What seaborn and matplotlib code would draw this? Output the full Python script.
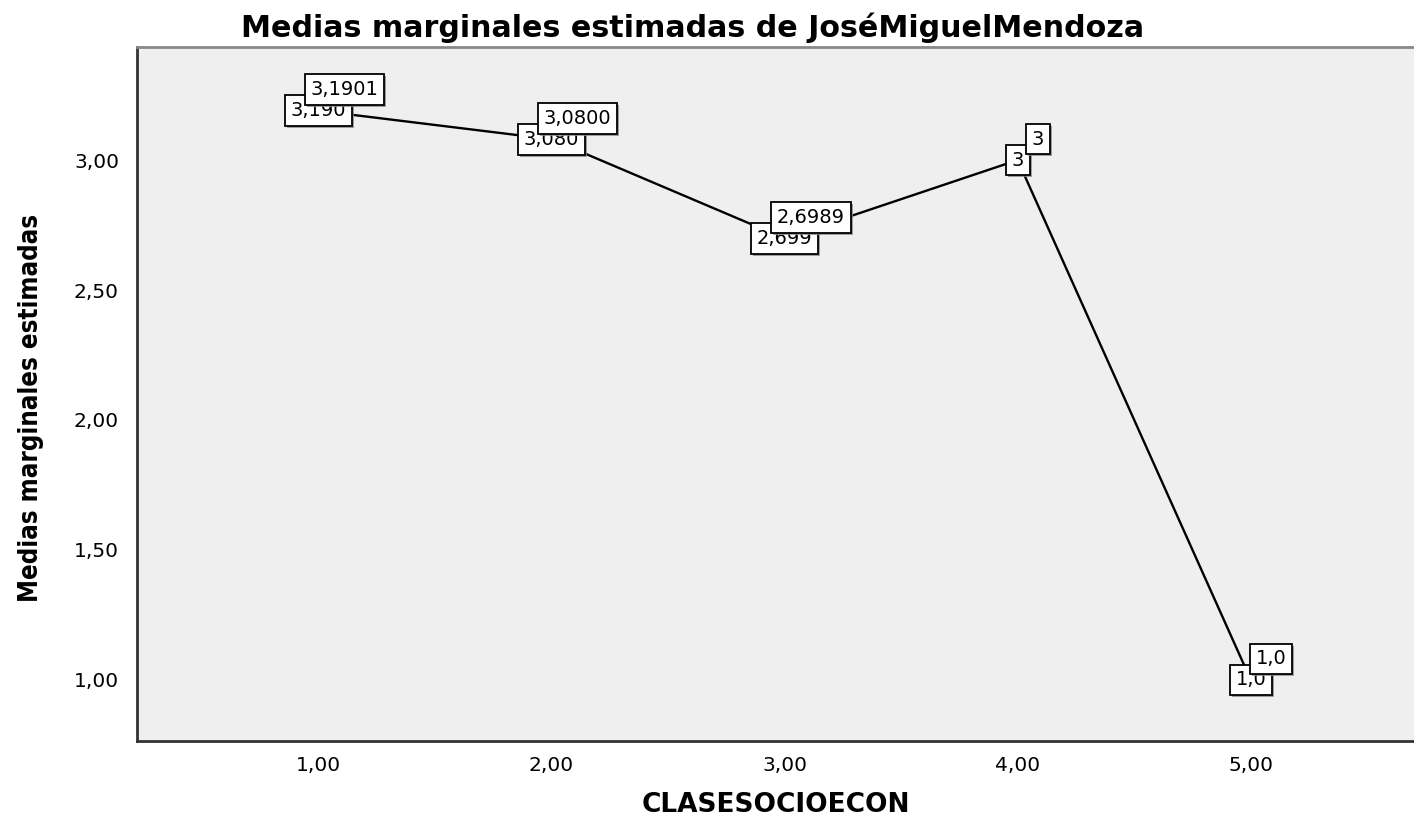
import seaborn as sns
import matplotlib.pyplot as plt
import matplotlib.patheffects as pe
import pandas as pd

clase = [1.0, 2.0, 3.0, 4.0, 5.0]
medias = [3.1901, 3.0800, 2.6989, 3.0, 1.0]
etiquetas_abajo = ["3,190", "3,080", "2,699", "3", "1,0"]
etiquetas_arriba = ["3,1901", "3,0800", "2,6989", "3", "1,0"]
yticks = [1.0, 1.5, 2.0, 2.5, 3.0]
xticks = [1.0, 2.0, 3.0, 4.0, 5.0]

df = pd.DataFrame({"CLASESOCIOECON": clase, "media": medias})

sns.set_style("white")
plt.rcParams["font.family"] = ["DejaVu Sans"]
plt.rcParams["text.color"] = "black"
plt.rcParams["axes.labelcolor"] = "black"

fig = plt.figure(figsize=(14.14, 8.17), dpi=100)
ax = fig.add_axes([0.0969, 0.093, 0.9031, 0.8495])
ax.set_facecolor("#efefef")

sns.lineplot(data=df, x="CLASESOCIOECON", y="media", color="black",
             linewidth=1.7, ax=ax, estimator=None, sort=False)

ax.set_xlim(0.223, 5.70)
ax.set_ylim(0.765, 3.435)
ax.set_xticks(xticks)
ax.set_xticklabels([f"{v:.2f}".replace(".", ",") for v in xticks])
ax.set_yticks(yticks)
ax.set_yticklabels([f"{v:.2f}".replace(".", ",") for v in yticks])
ax.tick_params(axis="x", length=8, width=1.5, pad=3, labelsize=14.5, labelcolor="black")
ax.tick_params(axis="y", length=12, width=1.5, pad=1, labelsize=14.5, labelcolor="black")
ax.tick_params(axis="both", color="#333333")

for s in ["left", "bottom"]:
    ax.spines[s].set_color("#333333")
    ax.spines[s].set_linewidth(2)
ax.spines["top"].set_color("#888888")
ax.spines["top"].set_linewidth(2)
ax.spines["right"].set_visible(False)

ax.set_xlabel("CLASESOCIOECON", fontsize=19, fontweight="bold", labelpad=12)
ax.set_ylabel("Medias marginales estimadas", fontsize=18.5, fontweight="bold",
              fontstretch="condensed")
ax.yaxis.set_label_coords(-0.073, 0.48)
fig.text(0.49, 0.966, "Medias marginales estimadas de JoséMiguelMendoza",
         ha="center", va="center", fontsize=21.7, fontweight="bold")

caja = dict(boxstyle="square,pad=0.3", facecolor="white", edgecolor="black", linewidth=1.3)
sombra = [pe.SimplePatchShadow(offset=(1.5, -1.5), shadow_rgbFace="#888888", alpha=0.8), pe.Normal()]

abajo = []
for x, y, t in zip(clase, medias, etiquetas_abajo):
    txt = ax.text(x, y, t, ha="center", va="center", fontsize=14, bbox=caja, zorder=3)
    txt.get_bbox_patch().set_path_effects(sombra)
    abajo.append(txt)

fig.canvas.draw()
renderer = fig.canvas.get_renderer()
for x, y, t, txt in zip(clase, medias, etiquetas_arriba, abajo):
    px, py = ax.transData.transform((x, y))
    bb = txt.get_window_extent(renderer)
    dx = (bb.x0 - px + 20) * 72 / fig.dpi
    dy = 21 * 72 / fig.dpi
    up = ax.annotate(t, xy=(x, y), xytext=(dx, dy), textcoords="offset points",
                     ha="left", va="center", fontsize=14, bbox=caja, zorder=4)
    up.get_bbox_patch().set_path_effects(sombra)

fig.savefig("out.png", dpi=100)
